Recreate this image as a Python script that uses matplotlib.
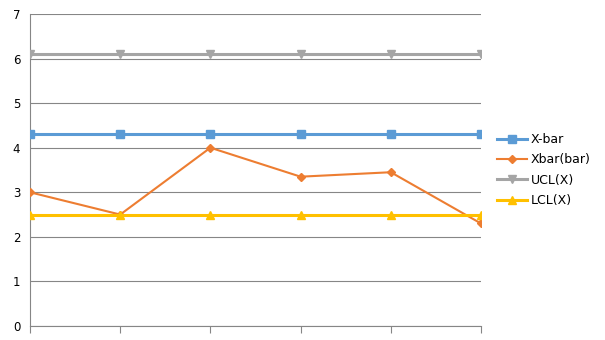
import matplotlib
matplotlib.use("Agg")
import matplotlib.pyplot as plt

categories = [1, 2, 3, 4, 5, 6]
x_bar = [4.3, 4.3, 4.3, 4.3, 4.3, 4.3]
xbar_bar = [3.0, 2.5, 4.0, 3.35, 3.45, 2.3]
ucl_x = [6.1, 6.1, 6.1, 6.1, 6.1, 6.1]
lcl_x = [2.5, 2.5, 2.5, 2.5, 2.5, 2.5]
y_ticks = [0, 1, 2, 3, 4, 5, 6, 7]

fig = plt.figure(figsize=(6.05, 3.4), dpi=100)
ax = fig.add_axes([30/605, 1 - 326/340, 451/605, 312/340])

pos = list(range(len(categories)))
ax.plot(pos, x_bar, color="#5B9BD5", lw=2.2, marker="s", ms=6, label="X-bar", zorder=3)
ax.plot(pos, xbar_bar, color="#ED7D31", lw=1.5, marker="D", ms=4, label="Xbar(bar)", zorder=3)
ax.plot(pos, ucl_x, color="#A5A5A5", lw=2.2, marker="v", ms=6, label="UCL(X)", zorder=3)
ax.plot(pos, lcl_x, color="#FFC000", lw=2.2, marker="^", ms=6, label="LCL(X)", zorder=3)

ax.set_xlim(0, len(categories) - 1)
ax.set_ylim(0, 7)
ax.set_yticks(y_ticks)
ax.set_xticks(pos)
ax.set_xticklabels([])
ax.grid(axis="y", color="#868686", lw=0.8)
ax.set_axisbelow(True)
for s in ["top", "right"]:
    ax.spines[s].set_visible(False)
for s in ["left", "bottom"]:
    ax.spines[s].set_color("#868686")
    ax.spines[s].set_linewidth(0.8)
ax.tick_params(axis="y", length=0, labelsize=8.5, pad=7)
ax.tick_params(axis="x", length=5, color="#868686", width=0.8)

leg = ax.legend(loc="center left", bbox_to_anchor=(1.01, 0.5), frameon=False,
                fontsize=9, handlelength=2.4, labelspacing=0.58, handletextpad=0.3)

fig.savefig("out.png", dpi=100, facecolor="white")
